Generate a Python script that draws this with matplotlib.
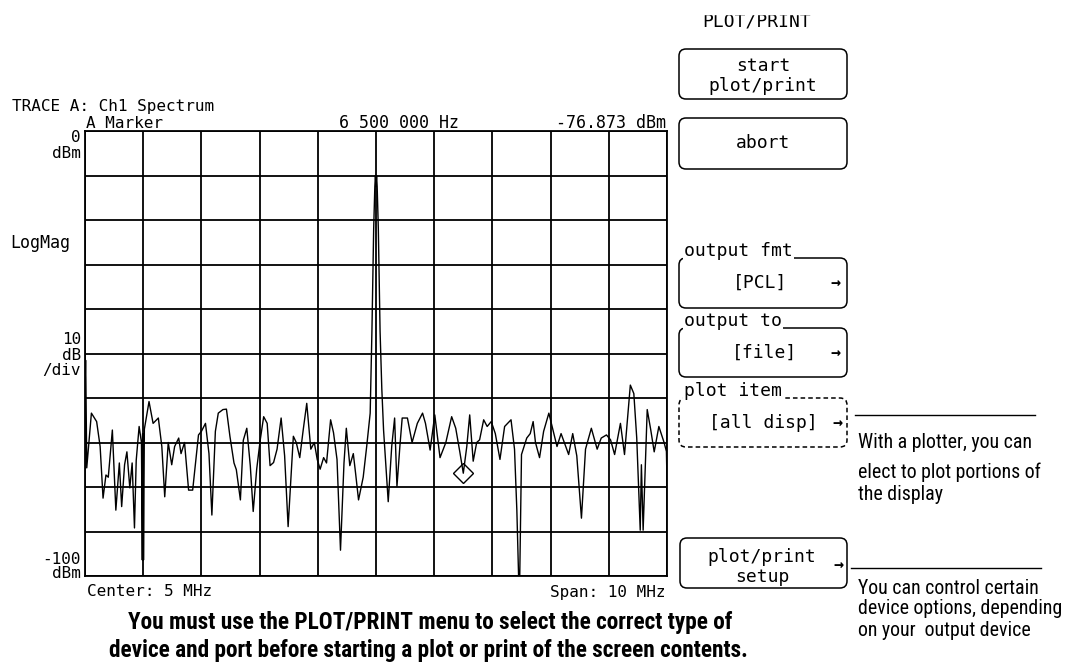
import matplotlib
matplotlib.use("Agg")
import matplotlib.pyplot as plt
from matplotlib import font_manager as fm
from matplotlib import patheffects
from matplotlib.patches import FancyBboxPatch, Rectangle
import numpy as np

W, H = 1068, 668

# spectrum trace: frequency in MHz, level in dBm
freq_mhz = [0.0, 0.005, 0.01, 0.015, 0.03, 0.11, 0.2, 0.26, 0.31, 0.36, 0.40, 0.47, 0.53,
            0.59, 0.63, 0.68, 0.72, 0.77, 0.81, 0.85, 0.88, 0.93, 0.97, 0.985, 0.99, 0.995,
            1.0, 1.005, 1.02, 1.10, 1.17, 1.26, 1.32, 1.37, 1.43, 1.49, 1.54, 1.61, 1.65,
            1.71, 1.78, 1.85, 1.95, 2.0, 2.07, 2.13, 2.18, 2.24, 2.29, 2.37, 2.43, 2.49,
            2.56, 2.60, 2.67, 2.72, 2.78, 2.84, 2.89, 2.95, 3.01, 3.07, 3.13, 3.18, 3.24,
            3.30, 3.37, 3.43, 3.49, 3.58, 3.63, 3.69, 3.75, 3.81, 3.88, 3.94, 3.99, 4.04,
            4.10, 4.15, 4.22, 4.27, 4.33, 4.39, 4.45, 4.49, 4.55, 4.61, 4.65, 4.70, 4.78,
            4.84, 4.90, 4.93, 4.96, 4.98, 4.99, 5.00, 5.01, 5.02, 5.04, 5.07, 5.10, 5.13,
            5.21, 5.27, 5.32, 5.36, 5.41, 5.45, 5.54, 5.62, 5.71, 5.80, 5.85, 5.93, 6.01,
            6.10, 6.20, 6.30, 6.37, 6.44, 6.50, 6.56, 6.61, 6.67, 6.73, 6.78, 6.85, 6.91,
            6.98, 7.05, 7.13, 7.21, 7.32, 7.38, 7.42, 7.45, 7.47, 7.50, 7.59, 7.65, 7.70,
            7.74, 7.81, 7.88, 7.97, 8.04, 8.11, 8.18, 8.25, 8.31, 8.38, 8.45, 8.53, 8.60,
            8.70, 8.80, 8.87, 8.96, 9.03, 9.10, 9.20, 9.27, 9.37, 9.43, 9.48, 9.54, 9.56,
            9.59, 9.66, 9.72, 9.78, 9.86, 9.95, 9.99, 10.0]
level_dbm = [-51.2, -55.0, -51.5, -55.5, -75.7, -63.4, -65.3, -70.9, -82.5, -77.3, -77.8, -67.2, -85.2,
             -74.6, -84.4, -75.0, -72.1, -80.2, -74.6, -89.2, -74.0, -66.4, -70.0, -96.4, -68.0, -96.4,
             -68.0, -96.4, -67.0, -60.8, -65.7, -64.5, -70.9, -82.2, -70.0, -75.0, -70.9, -69.0, -72.5,
             -70.0, -80.7, -80.7, -68.3, -67.5, -65.7, -72.5, -86.3, -67.5, -63.4, -62.6, -62.5, -68.6,
             -74.6, -76.1, -82.9, -69.5, -66.8, -75.2, -85.5, -76.0, -69.5, -64.2, -65.7, -75.2, -74.5,
             -71.5, -64.5, -73.0, -88.9, -68.6, -70.0, -73.4, -67.1, -61.2, -71.5, -70.0, -73.8, -76.0,
             -73.4, -74.6, -64.9, -67.8, -73.8, -94.2, -74.6, -66.8, -75.2, -72.5, -77.0, -82.9, -77.8,
             -70.9, -63.4, -45.0, -22.0, -12.5, -10.0, -12.5, -10.0, -12.5, -22.0, -45.0, -58.0, -67.2,
             -83.3, -70.9, -64.5, -79.9, -70.9, -64.5, -64.5, -70.0, -65.7, -63.4, -65.7, -71.7, -63.8,
             -73.4, -70.0, -64.2, -66.8, -72.1, -76.9, -70.9, -63.8, -74.2, -70.0, -69.4, -64.9, -66.4,
             -65.3, -68.0, -73.8, -66.4, -64.9, -71.5, -85.2, -100.0, -100.0, -72.7, -69.0, -68.0, -65.3,
             -70.0, -73.4, -67.5, -63.4, -67.1, -70.9, -68.0, -70.5, -72.7, -68.0, -73.0, -87.0, -71.5,
             -66.8, -71.5, -69.0, -68.3, -69.4, -72.7, -65.7, -72.7, -57.1, -59.0, -69.0, -89.7, -75.0,
             -89.7, -62.6, -67.1, -72.1, -66.4, -70.0, -72.0, -78.8]

marker_freq = 6.5
marker_level = -76.873

x_ticks = np.arange(0, 11, 1)
y_ticks = np.arange(-100, 1, 10)

callout_1 = ["With a plotter, you can", "elect to plot portions of", "the display"]
callout_2 = ["You can control certain", "device options, depending", "on your  output device"]
note = ["You must use the PLOT/PRINT menu to select the correct type of",
        "device and port before starting a plot or print of the screen contents."]

MONO = "DejaVu Sans Mono"


def is_bold(f):
    w = f.weight
    if isinstance(w, str):
        return any(k in w.lower() for k in ("bold", "heavy", "black"))
    return w >= 600


# a narrow sans for the printed captions, if one is installed
narrow = [f for f in fm.fontManager.ttflist if "Narrow" in f.name or "Condensed" in f.name]
prefs = ["Liberation Sans Narrow", "Roboto Condensed", "Open Sans Condensed", "Noto Sans Condensed"]


def pick(bold):
    pool = [f for f in narrow if is_bold(f)] if bold else [f for f in narrow if not is_bold(f)]
    pool = pool or narrow
    for p in prefs:
        if any(f.name == p for f in pool):
            return p
    return pool[0].name if pool else "DejaVu Sans"


NARROW = pick(False)
NARROW_B = pick(True)
fake_bold = not any(f.name == NARROW_B and is_bold(f) for f in fm.fontManager.ttflist)

fig = plt.figure(figsize=(W / 100, H / 100), dpi=100)

# overlay in pixel coordinates for the screen texts and softkeys
ov = fig.add_axes([0, 0, 1, 1])
ov.set_xlim(0, W)
ov.set_ylim(H, 0)
ov.axis("off")

ax = fig.add_axes([85 / W, 1 - 576 / H, 582 / W, 445 / H])
ax.plot(freq_mhz, level_dbm, color="black", lw=1.0)
ax.plot([marker_freq], [marker_level], marker="D", ms=10, mfc="none", mec="black", mew=1.0)
ax.set_xlim(0, 10)
ax.set_ylim(-100, 0)
ax.set_xticks(x_ticks)
ax.set_yticks(y_ticks)
ax.grid(True, color="black", lw=1.3)
ax.tick_params(length=0, labelbottom=False, labelleft=False)
for s in ax.spines.values():
    s.set_linewidth(1.3)

# screen annotations
ov.text(12, 111, "TRACE A: Ch1 Spectrum", family=MONO, fontsize=11.5)
ov.text(86, 128, "A Marker", family=MONO, fontsize=11.5)
ov.text(339, 128, "6 500 000 Hz", family=MONO, fontsize=12)
ov.text(666, 128, "-76.873 dBm", family=MONO, fontsize=12, ha="right")
ov.text(81, 137, "0", family=MONO, fontsize=11.5, ha="right", va="center")
ov.text(81, 153, "dBm", family=MONO, fontsize=11.5, ha="right", va="center")
ov.text(10, 243, "LogMag", family=MONO, fontsize=12, va="center")
ov.text(81, 340, "10", family=MONO, fontsize=11.5, ha="right", va="center")
ov.text(81, 355, "dB", family=MONO, fontsize=11.5, ha="right", va="center")
ov.text(81, 370, "/div", family=MONO, fontsize=11.5, ha="right", va="center")
ov.text(81, 559, "-100", family=MONO, fontsize=11.5, ha="right", va="center")
ov.text(81, 573, "dBm", family=MONO, fontsize=11.5, ha="right", va="center")
ov.text(87, 592, "Center: 5 MHz", family=MONO, fontsize=11.5, va="center")
ov.text(666, 592, "Span: 10 MHz", family=MONO, fontsize=11.5, ha="right", va="center")

# menu title, cut off at the top like the screenshot
ov.text(757, 27, "PLOT/PRINT", family=MONO, fontsize=13, ha="center")
ov.add_patch(Rectangle((600, -5), 300, 19, color="white", zorder=5))

KEY = 13


def softkey(x0, y0, x1, y1, dashed=False):
    ov.add_patch(FancyBboxPatch((x0, y0), x1 - x0, y1 - y0,
                                boxstyle="round,pad=0,rounding_size=7",
                                fill=False, ec="black", lw=1.1,
                                ls=(0, (3, 2)) if dashed else "-"))


def border_label(x, y, s):
    ov.text(x, y - 2, s, family=MONO, fontsize=KEY, va="baseline",
            bbox=dict(facecolor="white", edgecolor="none", pad=1.0))


def arrow(x, y):
    ov.text(x, y, "→", family=MONO, fontsize=12, weight="bold", ha="center", va="center",
            bbox=dict(facecolor="white", edgecolor="none", pad=0.3))


softkey(679, 49, 847, 99)
ov.text(763, 66, "start", family=MONO, fontsize=KEY, ha="center", va="center")
ov.text(763, 86, "plot/print", family=MONO, fontsize=KEY, ha="center", va="center")

softkey(679, 118, 847, 169)
ov.text(763, 143, "abort", family=MONO, fontsize=KEY, ha="center", va="center")

softkey(679, 258, 847, 308)
border_label(684, 258, "output fmt")
ov.text(760, 283, "[PCL]", family=MONO, fontsize=KEY, ha="center", va="center")
arrow(835, 284)

softkey(679, 328, 847, 377)
border_label(684, 328, "output to")
ov.text(765, 353, "[file]", family=MONO, fontsize=KEY, ha="center", va="center")
arrow(835, 354)

softkey(679, 398, 847, 447, dashed=True)
border_label(684, 398, "plot item")
ov.text(763, 423, "[all disp]", family=MONO, fontsize=KEY, ha="center", va="center")
arrow(837, 424)

softkey(680, 538, 847, 588)
ov.text(762, 557, "plot/print", family=MONO, fontsize=KEY, ha="center", va="center")
ov.text(762, 577, "setup", family=MONO, fontsize=KEY, ha="center", va="center")
arrow(838, 566)

renderer = fig.canvas.get_renderer()


def fitted_size(s, width, **kw):
    t = ov.text(0, 0, s, fontsize=20, **kw)
    w = t.get_window_extent(renderer).width
    t.remove()
    return 20 * width / w


# captions in the narrow face, sized so the first line spans what it does on the page
fs_c = fitted_size(callout_1[0], 174, family=NARROW)
for i, s in enumerate(callout_1):
    ov.text(858, 442 + 26 * i if i == 0 else 450 + 22 * i, s, family=NARROW, fontsize=fs_c, va="center")
for i, s in enumerate(callout_2):
    ov.text(858, 588 + 21 * i, s, family=NARROW, fontsize=fs_c, va="center")

bold_kw = dict(family=NARROW_B, weight="bold")
if fake_bold:
    bold_kw["path_effects"] = [patheffects.withStroke(linewidth=1.3, foreground="black")]
fs_n = fitted_size(note[0], 604, **bold_kw)
ov.text(430, 622, note[0], fontsize=fs_n, ha="center", va="center", **bold_kw)
ov.text(428, 651, note[1], fontsize=fs_n, ha="center", va="center", **bold_kw)

ov.plot([855, 1035], [415, 415], color="black", lw=1.0)
ov.plot([851, 1041], [568, 568], color="black", lw=1.0)

fig.savefig("out.png", dpi=100)
